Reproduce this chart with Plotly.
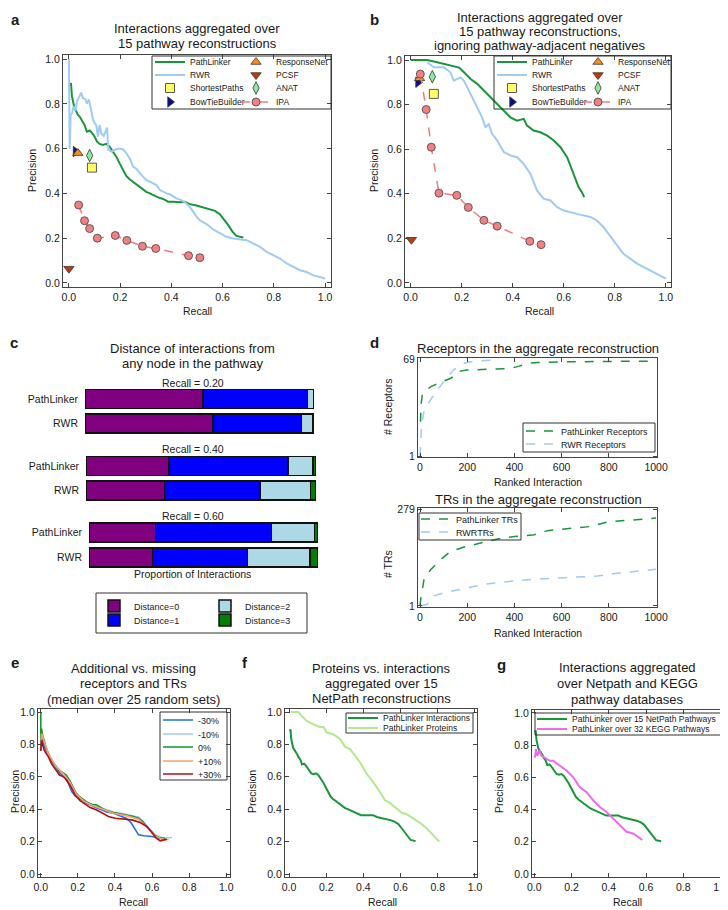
import plotly.graph_objects as go

W, H = 728, 910          # browser page size
OFF = 8                  # default body margin of the html page
FW, FH = W - OFF, H - OFF
FONT = "Liberation Sans, Arial, Helvetica, sans-serif"
TXT = "#1a1a1a"
AX = "#444444"

# ---------------- data ----------------
pr_tickvals = [0.0, 0.2, 0.4, 0.6, 0.8, 1.0]
pr_ticktext = ["0.0", "0.2", "0.4", "0.6", "0.8", "1.0"]

# PathLinker, interactions aggregated over 15 NetPath pathways (panels a, f, g)
pl_recall = [0.005, 0.008, 0.012, 0.016, 0.022, 0.029, 0.035, 0.042, 0.052, 0.061,
             0.070, 0.081, 0.091, 0.100, 0.110, 0.120, 0.133, 0.146, 0.159, 0.172,
             0.185, 0.198, 0.211, 0.224, 0.237, 0.250, 0.263, 0.276, 0.289, 0.302,
             0.316, 0.329, 0.348, 0.368, 0.387, 0.407, 0.433, 0.452, 0.472, 0.498,
             0.524, 0.550, 0.570, 0.589, 0.605, 0.622, 0.639, 0.654, 0.681]
pl_precision = [0.880, 0.893, 0.833, 0.810, 0.780, 0.766, 0.750, 0.743, 0.720, 0.706,
                0.676, 0.681, 0.669, 0.654, 0.631, 0.621, 0.616, 0.621, 0.609, 0.587,
                0.564, 0.534, 0.504, 0.478, 0.463, 0.452, 0.437, 0.430, 0.418, 0.407,
                0.400, 0.393, 0.382, 0.375, 0.363, 0.363, 0.361, 0.363, 0.352, 0.346,
                0.337, 0.331, 0.322, 0.307, 0.284, 0.258, 0.228, 0.210, 0.203]

rwr_a_recall = [0.000, 0.003, 0.007, 0.013, 0.018, 0.026, 0.031, 0.039, 0.048, 0.055,
                0.065, 0.070, 0.078, 0.087, 0.094, 0.100, 0.107, 0.113, 0.120, 0.126,
                0.136, 0.143, 0.149, 0.154, 0.166, 0.179, 0.192, 0.211, 0.224, 0.240,
                0.250, 0.263, 0.276, 0.289, 0.302, 0.316, 0.329, 0.342, 0.355, 0.368,
                0.381, 0.394, 0.407, 0.420, 0.439, 0.459, 0.472, 0.485, 0.498, 0.511,
                0.537, 0.563, 0.589, 0.615, 0.641, 0.668, 0.694, 0.720, 0.746, 0.772,
                0.798, 0.824, 0.850, 0.876, 0.902, 0.928, 0.954, 0.980, 1.000]
rwr_a_precision = [1.000, 0.600, 0.750, 0.760, 0.790, 0.770, 0.810, 0.830, 0.850, 0.825,
                   0.820, 0.800, 0.820, 0.770, 0.730, 0.715, 0.705, 0.654, 0.705, 0.670,
                   0.657, 0.676, 0.694, 0.594, 0.587, 0.594, 0.600, 0.597, 0.580, 0.550,
                   0.520, 0.510, 0.490, 0.475, 0.460, 0.452, 0.445, 0.437, 0.415, 0.407,
                   0.400, 0.396, 0.385, 0.378, 0.370, 0.355, 0.340, 0.318, 0.296, 0.280,
                   0.263, 0.239, 0.221, 0.206, 0.199, 0.194, 0.191, 0.176, 0.161, 0.139,
                   0.124, 0.109, 0.087, 0.072, 0.057, 0.049, 0.034, 0.027, 0.019]

plb_recall = [0.000, 0.065, 0.104, 0.143, 0.190, 0.209, 0.235, 0.261, 0.287, 0.313,
              0.339, 0.365, 0.391, 0.417, 0.443, 0.456, 0.482, 0.508, 0.535, 0.561,
              0.587, 0.613, 0.639, 0.658, 0.671, 0.680]
plb_precision = [1.000, 1.000, 0.990, 0.980, 0.966, 0.945, 0.915, 0.893, 0.863, 0.833,
                 0.803, 0.773, 0.743, 0.728, 0.736, 0.706, 0.684, 0.676, 0.661, 0.639,
                 0.609, 0.564, 0.490, 0.430, 0.407, 0.385]
rwrb_recall = [0.065, 0.091, 0.130, 0.156, 0.169, 0.196, 0.209, 0.235, 0.261, 0.280,
               0.293, 0.306, 0.319, 0.339, 0.365, 0.391, 0.417, 0.443, 0.469, 0.495,
               0.521, 0.548, 0.574, 0.600, 0.652, 0.704, 0.730, 0.756, 0.795, 0.834,
               0.887, 0.939, 1.000]
rwrb_precision = [0.990, 0.967, 0.967, 0.945, 0.907, 0.922, 0.907, 0.848, 0.788, 0.743,
                  0.699, 0.712, 0.669, 0.639, 0.587, 0.572, 0.564, 0.534, 0.490, 0.415,
                  0.378, 0.370, 0.340, 0.325, 0.310, 0.296, 0.280, 0.250, 0.190, 0.131,
                  0.087, 0.057, 0.020]

# single-point methods
pt_methods = ["ShortestPaths", "BowTieBuilder", "ResponseNet", "PCSF", "ANAT"]
pt_a_recall = [0.090, 0.026, 0.035, 0.000, 0.081]
pt_a_precision = [0.515, 0.587, 0.580, 0.064, 0.569]
pt_b_recall = [0.091, 0.029, 0.035, 0.003, 0.085]
pt_b_precision = [0.848, 0.900, 0.918, 0.194, 0.925]

ipa_recall = [0.038, 0.061, 0.081, 0.111, 0.181, 0.226, 0.287, 0.339, 0.467, 0.511]
ipa_a_precision = [0.348, 0.278, 0.243, 0.200, 0.212, 0.190, 0.164, 0.154, 0.122, 0.113]
ipa_b_precision = [0.937, 0.778, 0.609, 0.403, 0.393, 0.339, 0.281, 0.255, 0.187, 0.172]

# panel c: proportion of interactions by distance
c_groups = ["Recall = 0.20", "Recall = 0.40", "Recall = 0.60"]
c_methods = ["PathLinker", "RWR"]
dist_names = ["Distance=0", "Distance=1", "Distance=2", "Distance=3"]
pl_dist0 = [0.515, 0.361, 0.290]
pl_dist1 = [0.456, 0.517, 0.508]
pl_dist2 = [0.027, 0.110, 0.187]
pl_dist3 = [0.002, 0.012, 0.015]
rwr_dist0 = [0.560, 0.341, 0.277]
rwr_dist1 = [0.385, 0.416, 0.415]
rwr_dist2 = [0.051, 0.218, 0.274]
rwr_dist3 = [0.004, 0.025, 0.033]

# panel d
d_xticks = [0, 200, 400, 600, 800, 1000]
rec_yticks = [1, 69]
tr_yticks = [1, 279]
pl_rec_x = [2, 5, 10, 20, 50, 100, 130, 150, 170, 200, 300, 380, 420, 460, 500, 600, 800, 1000]
pl_rec_y = [25, 38, 44, 46.5, 50, 53.5, 55.5, 57.5, 60.5, 61.3, 61.6, 62.3, 64, 66, 66.5, 67, 67.3, 67.5]
rwr_rec_x = [0, 3, 6, 17, 31, 59, 102, 144, 187, 229, 330]
rwr_rec_y = [1, 12, 21, 32.7, 37, 44, 53.5, 61.6, 66, 67.4, 68.5]
pl_tr_x = [0, 3, 17, 45, 88, 130, 187, 257, 328, 399, 484, 540, 611, 724, 795, 894, 1000]
pl_tr_y = [1, 20, 77, 105, 134, 158, 170, 181, 193, 200, 205, 217, 221, 229, 242, 248, 253]
rwr_tr_x = [0, 31, 59, 102, 187, 272, 356, 470, 611, 752, 823, 1000]
rwr_tr_y = [1, 6, 30, 39, 51, 63, 70, 77, 82, 87, 94, 106]

# panel e
e_labels = ["-30%", "-10%", "0%", "+10%", "+30%"]
e_m30_recall = [0.000, 0.004, 0.018, 0.041, 0.068, 0.101, 0.126, 0.149, 0.167, 0.185,
                0.212, 0.248, 0.284, 0.320, 0.356, 0.392, 0.428, 0.460, 0.486, 0.504,
                0.527, 0.554, 0.599, 0.644, 0.671]
e_m30_precision = [0.764, 0.846, 0.785, 0.734, 0.678, 0.625, 0.600, 0.559, 0.508, 0.482,
                   0.461, 0.436, 0.416, 0.400, 0.383, 0.375, 0.359, 0.344, 0.318, 0.283,
                   0.242, 0.236, 0.232, 0.221, 0.211]
e_m10_recall = [0.000, 0.004, 0.041, 0.083, 0.119, 0.155, 0.191, 0.230, 0.275, 0.329,
                0.392, 0.464, 0.527, 0.572, 0.617, 0.662, 0.707]
e_m10_precision = [0.760, 0.877, 0.740, 0.662, 0.625, 0.576, 0.498, 0.457, 0.426, 0.406,
                   0.383, 0.367, 0.350, 0.297, 0.242, 0.221, 0.225]
e_0_recall = [0.000, 0.000, 0.004, 0.011, 0.018, 0.029, 0.041, 0.054, 0.068, 0.083,
              0.101, 0.119, 0.137, 0.155, 0.173, 0.191, 0.209, 0.230, 0.252, 0.275,
              0.302, 0.329, 0.356, 0.392, 0.428, 0.464, 0.500, 0.527, 0.550, 0.572,
              0.594, 0.617, 0.640, 0.671]
e_0_precision = [1.000, 0.764, 0.898, 0.846, 0.826, 0.775, 0.744, 0.713, 0.686, 0.666,
                 0.637, 0.625, 0.611, 0.580, 0.539, 0.498, 0.477, 0.457, 0.441, 0.430,
                 0.426, 0.406, 0.391, 0.379, 0.371, 0.365, 0.355, 0.344, 0.324, 0.293,
                 0.262, 0.236, 0.223, 0.221]
e_p10_recall = [0.000, 0.004, 0.041, 0.083, 0.119, 0.155, 0.191, 0.230, 0.275, 0.329,
                0.392, 0.464, 0.527, 0.572, 0.617, 0.662, 0.689]
e_p10_precision = [0.770, 0.867, 0.740, 0.662, 0.621, 0.570, 0.494, 0.451, 0.424, 0.400,
                   0.375, 0.359, 0.338, 0.289, 0.232, 0.215, 0.211]
e_p30_recall = [0.000, 0.004, 0.018, 0.041, 0.059, 0.077, 0.101, 0.122, 0.140, 0.162,
                0.185, 0.212, 0.239, 0.266, 0.302, 0.338, 0.365, 0.401, 0.446, 0.491,
                0.536, 0.572, 0.599, 0.622, 0.644, 0.662, 0.680]
e_p30_precision = [0.760, 0.826, 0.764, 0.723, 0.678, 0.652, 0.611, 0.600, 0.580, 0.539,
                   0.488, 0.453, 0.432, 0.410, 0.395, 0.375, 0.355, 0.344, 0.338, 0.334,
                   0.318, 0.293, 0.256, 0.221, 0.205, 0.211, 0.215]

# panel f: proteins
prot_recall = [0.009, 0.050, 0.068, 0.095, 0.131, 0.167, 0.185, 0.203, 0.238, 0.274,
               0.301, 0.328, 0.355, 0.382, 0.418, 0.453, 0.489, 0.516, 0.543, 0.579,
               0.606, 0.633, 0.668, 0.704, 0.740, 0.776, 0.808]
prot_precision = [1.000, 1.000, 0.976, 0.945, 0.924, 0.908, 0.908, 0.873, 0.863, 0.833,
                  0.786, 0.771, 0.731, 0.690, 0.618, 0.567, 0.506, 0.455, 0.439, 0.404,
                  0.378, 0.369, 0.343, 0.316, 0.282, 0.241, 0.200]

# panel g: KEGG
kegg_recall = [0.004, 0.009, 0.016, 0.027, 0.039, 0.057, 0.084, 0.102, 0.138, 0.174,
               0.210, 0.245, 0.281, 0.317, 0.352, 0.388, 0.424, 0.460, 0.495, 0.531,
               0.558, 0.580]
kegg_precision = [0.723, 0.775, 0.734, 0.768, 0.734, 0.723, 0.703, 0.703, 0.672, 0.641,
                  0.600, 0.539, 0.508, 0.457, 0.416, 0.385, 0.344, 0.303, 0.262, 0.252,
                  0.232, 0.211]

# ---------------- styles ----------------
C_PL = "#18973a"
C_RWR = "#9fcbf4"
C_SP = "#ffff66"
C_BTB = "#0b0b8f"
C_RN = "#ff8c1a"
C_PCSF = "#c4380c"
C_ANAT = "#8fe8a0"
C_IPA = "#f28080"
C_DIST = ["#800080", "#0000ff", "#add8e6", "#008000"]
C_E = ["#1f6fe8", "#9dcbf5", "#119a2a", "#ff9e6e", "#b0101a"]
C_PROT = "#b0ec8c"
C_KEGG = "#f06af0"

pt_symbols = ["square", "triangle-right", "triangle-up", "triangle-down", "diamond-tall"]
pt_colors = [C_SP, C_BTB, C_RN, C_PCSF, C_ANAT]


def fx(p):
    return (p - OFF) / FW


def fy(p):
    return 1 - (p - OFF) / FH


layout = {}
annotations = []
shapes = []
fig = go.Figure()

base_axis = dict(showline=True, linecolor=AX, linewidth=1, mirror="ticks", ticks="inside",
                 ticklen=4, tickwidth=1, tickcolor=AX, showgrid=False, zeroline=False,
                 tickfont=dict(family=FONT, size=10.5, color=TXT), fixedrange=True)


def set_axes(n, x0, x1, y0, y1, xr, yr, xkw=None, ykw=None):
    xn = "xaxis" if n == 1 else f"xaxis{n}"
    yn = "yaxis" if n == 1 else f"yaxis{n}"
    xa = dict(base_axis)
    ya = dict(base_axis)
    xa.update(domain=[fx(x0), fx(x1)], range=xr, anchor="y" if n == 1 else f"y{n}")
    ya.update(domain=[fy(y1), fy(y0)], range=yr, anchor="x" if n == 1 else f"x{n}")
    if xkw:
        xa.update(xkw)
    if ykw:
        ya.update(ykw)
    layout[xn] = xa
    layout[yn] = ya
    return ("x" if n == 1 else f"x{n}"), ("y" if n == 1 else f"y{n}")


pr_x = dict(tickmode="array", tickvals=pr_tickvals, ticktext=pr_ticktext)
pr_y = dict(tickmode="array", tickvals=pr_tickvals, ticktext=pr_ticktext)

leg_count = [0]


def new_legend(x0, yc, size=8.5):
    leg_count[0] += 1
    name = "legend" if leg_count[0] == 1 else f"legend{leg_count[0]}"
    layout[name] = dict(x=fx(x0), y=fy(yc), xanchor="left", yanchor="middle",
                        xref="paper", yref="paper", bgcolor="rgba(0,0,0,0)",
                        borderwidth=0, font=dict(family=FONT, size=size, color=TXT),
                        itemclick=False, itemdoubleclick=False)
    return name


def ann(text, x, y, size=13, angle=0):
    annotations.append(dict(text=text, x=fx(x), y=fy(y), xref="paper", yref="paper",
                            showarrow=False, xanchor="center", yanchor="middle",
                            textangle=angle, font=dict(family=FONT, size=size, color=TXT)))


def box(x0, y0, x1, y1):
    shapes.append(dict(type="rect", xref="paper", yref="paper", x0=fx(x0), x1=fx(x1),
                       y0=fy(y1), y1=fy(y0), line=dict(color="#333333", width=1),
                       fillcolor="rgba(0,0,0,0)", layer="above"))


def pr_panel(n, frame, xr, yr, pl_x, pl_y, rwr_x, rwr_y, pts_x, pts_y, ipa_y, leg_x1, leg_x2):
    xa, ya = set_axes(n, *frame, xr, yr, pr_x, pr_y)
    rows = [62, 75, 88, 102]
    fig.add_trace(go.Scatter(x=pl_x, y=pl_y, mode="lines", name="PathLinker",
                             line=dict(color=C_PL, width=2), xaxis=xa, yaxis=ya,
                             legend=new_legend(leg_x1, rows[0])))
    fig.add_trace(go.Scatter(x=rwr_x, y=rwr_y, mode="lines", name="RWR",
                             line=dict(color=C_RWR, width=2), xaxis=xa, yaxis=ya,
                             legend=new_legend(leg_x1, rows[1])))
    legpos = {"ShortestPaths": (leg_x1, rows[2]), "BowTieBuilder": (leg_x1, rows[3]),
              "ResponseNet": (leg_x2, rows[0]), "PCSF": (leg_x2, rows[1]),
              "ANAT": (leg_x2, rows[2])}
    for i, m in enumerate(pt_methods):
        fig.add_trace(go.Scatter(x=[pts_x[i]], y=[pts_y[i]], mode="markers", name=m,
                                 marker=dict(symbol=pt_symbols[i], size=9, color=pt_colors[i],
                                             line=dict(color="#333333", width=0.8)),
                                 xaxis=xa, yaxis=ya, legend=new_legend(*legpos[m])))
    fig.add_trace(go.Scatter(x=ipa_recall, y=ipa_y, mode="lines+markers", name="IPA",
                             line=dict(color="#f47c7c", width=1.5, dash="dash"),
                             marker=dict(symbol="circle", size=8, color=C_IPA,
                                         line=dict(color="#444444", width=0.8)),
                             xaxis=xa, yaxis=ya, legend=new_legend(leg_x2, rows[3])))


# ---------------- panel a ----------------
pr_panel(1, (63, 331, 55, 287), [-0.023, 1.023], [-0.018, 1.018], pl_recall, pl_precision,
         rwr_a_recall, rwr_a_precision, pt_a_recall, pt_a_precision, ipa_a_precision, 150, 236)
box(152, 56, 331, 109)
# ---------------- panel b ----------------
pr_panel(2, (405, 671, 56, 287), [-0.022, 1.02], [-0.018, 1.018], plb_recall, plb_precision,
         rwrb_recall, rwrb_precision, pt_b_recall, pt_b_precision, ipa_b_precision, 492, 578)
box(494, 56, 671, 109)

# ---------------- panel c ----------------
c_frames = [(85, 314, 386.75, 435.75), (86, 316, 453.75, 502.75), (89, 318, 520, 570)]
pl_d = [pl_dist0, pl_dist1, pl_dist2, pl_dist3]
rwr_d = [rwr_dist0, rwr_dist1, rwr_dist2, rwr_dist3]
c_leg_pos = [(94, 606), (94, 620), (205, 606), (205, 620)]
for g in range(3):
    n = 3 + g
    xa, ya = set_axes(n, *c_frames[g], [0, 1], [-0.5, 1.5],
                      dict(visible=False),
                      dict(type="category", categoryorder="array",
                           categoryarray=["RWR", "PathLinker"], showline=False, ticks="",
                           ticklabelstandoff=6, tickfont=dict(family=FONT, size=10.5, color=TXT)))
    for d in range(4):
        if g == 0:
            kw = dict(legend=new_legend(*c_leg_pos[d], size=9), showlegend=True)
        else:
            kw = dict(showlegend=False)
        fig.add_trace(go.Bar(x=[pl_d[d][g], rwr_d[d][g]], y=c_methods, orientation="h",
                             name=dist_names[d], width=0.76,
                             marker=dict(color=C_DIST[d], line=dict(color="#111111", width=1.5)),
                             xaxis=xa, yaxis=ya, **kw))
    ann(c_groups[g], 193, [383, 449, 516][g], size=10.5)
box(96, 593, 307, 633)

# ---------------- panel d ----------------
xa, ya = set_axes(6, 418, 657, 358, 457, [-8.5, 1004], [0.3, 69.7],
                  dict(tickmode="array", tickvals=d_xticks),
                  dict(tickmode="array", tickvals=rec_yticks))
fig.add_trace(go.Scatter(x=pl_rec_x, y=pl_rec_y, mode="lines", name="PathLinker Receptors",
                         line=dict(color=C_PL, width=1.5, dash="dash"), xaxis=xa, yaxis=ya,
                         legend=new_legend(521, 431, size=9)))
fig.add_trace(go.Scatter(x=rwr_rec_x, y=rwr_rec_y, mode="lines", name="RWR Receptors",
                         line=dict(color=C_RWR, width=1.5, dash="dash"), xaxis=xa, yaxis=ya,
                         legend=new_legend(521, 444, size=9)))
box(523, 423, 655, 452)

xa, ya = set_axes(7, 418, 657, 508, 607, [-8.5, 1004], [-1.9, 281.9],
                  dict(tickmode="array", tickvals=d_xticks),
                  dict(tickmode="array", tickvals=tr_yticks))
fig.add_trace(go.Scatter(x=pl_tr_x, y=pl_tr_y, mode="lines", name="PathLinker TRs",
                         line=dict(color=C_PL, width=1.5, dash="dash"), xaxis=xa, yaxis=ya,
                         legend=new_legend(416, 519, size=9)))
fig.add_trace(go.Scatter(x=rwr_tr_x, y=rwr_tr_y, mode="lines", name="RWRTRs",
                         line=dict(color=C_RWR, width=1.5, dash="dash"), xaxis=xa, yaxis=ya,
                         legend=new_legend(416, 532, size=9)))
box(419, 513, 521, 540)

# ---------------- panel e ----------------
xa, ya = set_axes(8, 38, 230, 709, 877, [-0.015, 1.02], [-0.0185, 1.0185], pr_x, pr_y)
e_data = [(e_m30_recall, e_m30_precision), (e_m10_recall, e_m10_precision),
          (e_0_recall, e_0_precision), (e_p10_recall, e_p10_precision),
          (e_p30_recall, e_p30_precision)]
e_rows = [720, 734, 747, 761, 774]
for i, (rx, ry) in enumerate(e_data):
    fig.add_trace(go.Scatter(x=rx, y=ry, mode="lines", name=e_labels[i],
                             line=dict(color=C_E[i], width=1.6), xaxis=xa, yaxis=ya,
                             legend=new_legend(158, e_rows[i], size=9)))
box(160, 712, 227, 780)

# ---------------- panel f ----------------
xa, ya = set_axes(9, 285, 477, 709, 877, [-0.0215, 1.011], [-0.0185, 1.0185], pr_x, pr_y)
fig.add_trace(go.Scatter(x=pl_recall, y=pl_precision, mode="lines", name="PathLinker Interactions",
                         line=dict(color=C_PL, width=2), xaxis=xa, yaxis=ya,
                         legend=new_legend(343, 718)))
fig.add_trace(go.Scatter(x=prot_recall, y=prot_precision, mode="lines", name="PathLinker Proteins",
                         line=dict(color=C_PROT, width=2), xaxis=xa, yaxis=ya,
                         legend=new_legend(343, 728)))
box(346, 713, 473, 733)

# ---------------- panel g ----------------
xa, ya = set_axes(10, 532, 725, 710, 877, [-0.012, 1.024], [-0.0185, 1.0185], pr_x, pr_y)
fig.add_trace(go.Scatter(x=pl_recall, y=pl_precision, mode="lines",
                         name="PathLinker over 15 NetPath Pathways",
                         line=dict(color=C_PL, width=2), xaxis=xa, yaxis=ya,
                         legend=new_legend(532, 719)))
fig.add_trace(go.Scatter(x=kegg_recall, y=kegg_precision, mode="lines",
                         name="PathLinker over 32 KEGG Pathways",
                         line=dict(color=C_KEGG, width=2), xaxis=xa, yaxis=ya,
                         legend=new_legend(532, 729)))
box(535, 713, 721, 735)

# ---------------- text ----------------
titles = [
    ("Interactions aggregated over", 197, 28), ("15 pathway reconstructions", 197, 43),
    ("Interactions aggregated over", 540, 17.5), ("15 pathway reconstructions,", 540, 31.5),
    ("ignoring pathway-adjacent negatives", 540, 45.5),
    ("Distance of interactions from", 193, 348), ("any node in the pathway", 193, 363),
    ("Receptors in the aggregate reconstruction", 538, 348),
    ("TRs in the aggregate reconstruction", 538, 499),
    ("Additional vs. missing", 134, 668), ("receptors and TRs", 134, 683),
    ("(median over 25 random sets)", 134, 699),
    ("Proteins vs. interactions", 381, 668), ("aggregated over 15", 381, 683),
    ("NetPath reconstructions", 381, 698),
    ("Interactions aggregated", 627, 667), ("over Netpath and KEGG", 627, 683),
    ("pathway databases", 627, 699),
]
for t, x, y in titles:
    ann(t, x, y, size=13)

axis_titles = [
    ("Recall", 197, 311, 0), ("Precision", 32, 171, -90),
    ("Recall", 539, 311, 0), ("Precision", 374, 171, -90),
    ("Proportion of Interactions", 193, 574, 0),
    ("# Receptors", 388, 407, -90), ("Ranked Interaction", 538, 482, 0),
    ("# TRs", 388, 564, -90), ("Ranked Interaction", 538, 633, 0),
    ("Precision", 15, 792, -90), ("Recall", 133, 902, 0),
    ("Precision", 252, 792, -90), ("Recall", 382, 902, 0),
    ("Precision", 499, 792, -90), ("Recall", 627, 902, 0),
]
for t, x, y, a in axis_titles:
    ann(t, x, y, size=10.5, angle=a)

letters = [("a", 15, 19), ("b", 374, 19), ("c", 14, 342), ("d", 374, 342),
           ("e", 15, 662), ("f", 245, 662), ("g", 501, 664)]
for t, x, y in letters:
    ann(f"<b>{t}</b>", x, y, size=15)

fig.update_layout(
    width=FW, height=FH,
    margin=dict(l=0, r=0, t=0, b=0, autoexpand=False),
    paper_bgcolor="white", plot_bgcolor="white",
    barmode="stack", showlegend=True,
    font=dict(family=FONT, size=10, color=TXT),
    annotations=annotations, shapes=shapes,
    **layout,
)
fig.write_html("out.html")
